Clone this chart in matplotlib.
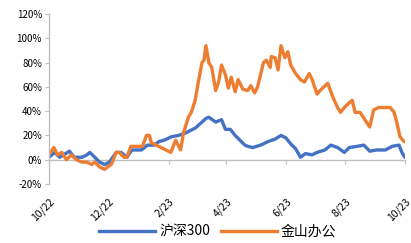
import numpy as np
import pandas as pd
import matplotlib
matplotlib.use('Agg')
import matplotlib.pyplot as plt
import matplotlib.dates as mdates
from matplotlib.ticker import FuncFormatter

plt.rcParams['font.family'] = ['Noto Sans CJK SC', 'DejaVu Sans']

# --- data: days since 2022-10-01 and cumulative return (%) ---
START = pd.Timestamp('2022-10-01')

hs300_days = [0, 6, 11, 21, 26, 34, 39, 42, 47, 52, 57, 62, 69, 74, 80, 85, 95, 101,
              108, 113, 118, 126, 133, 140, 150, 157, 161, 164, 171, 177, 181, 186,
              191, 196, 201, 204, 209, 217, 225, 232, 238, 243, 248, 253, 258, 263,
              270, 275, 283, 289, 296, 303, 308, 316, 323, 329, 336, 345, 352, 359,
              362, 365, 367]
hs300_vals = [2, 6, 2, 7, 2, 2, 4, 6, 2, -2, -4, -2, 6, 6, 2, 8, 8, 12,
              12, 15, 16, 19, 20, 22, 26, 31, 34, 35, 31, 33, 25, 25,
              20, 16, 12, 11, 10, 12, 15, 17, 20, 18, 13, 9, 2, 5,
              4, 6, 8, 12, 10, 6, 10, 11, 12, 7, 8, 8, 11, 12,
              6, 2, 4]

kso_days = [0, 5, 9, 13, 18, 23, 28, 34, 39, 44, 47, 52, 57, 60, 64, 69, 72, 77, 80,
            84, 90, 96, 100, 103, 105, 110, 115, 120, 125, 130, 135, 138, 143, 146,
            150, 153, 157, 159, 161, 164, 167, 171, 174, 177, 181, 184, 187, 191,
            194, 199, 204, 207, 211, 214, 220, 223, 227, 228, 232, 235, 238, 242,
            245, 248, 253, 258, 262, 267, 270, 275, 278, 286, 291, 296, 299, 303,
            308, 311, 314, 319, 324, 329, 333, 338, 345, 350, 354, 357, 360, 364, 366]
kso_vals = [4, 10, 4, 6, 0, 4, 0, -2, -2, -4, -2, -6, -8, -6, -4, 6, 6, 2, 2,
            11, 11, 11, 20, 20, 14, 12, 10, 8, 6, 16, 8, 22, 35, 39,
            49, 63, 80, 82, 94, 80, 76, 57, 64, 78, 70, 59, 68, 56,
            66, 58, 57, 61, 55, 60, 80, 82, 76, 85, 84, 74, 94, 84,
            89, 78, 71, 66, 64, 71, 66, 54, 57, 63, 52, 43, 39, 43,
            47, 49, 39, 39, 33, 27, 41, 43, 43, 43, 39, 30, 19, 15, 15]

series_names = ['沪深300', '金山办公']
series_colors = ['#4472C4', '#ED7D31']

tick_months = pd.date_range('2022-10-01', '2023-10-01', freq='2MS')
y_ticks = [-20, 0, 20, 40, 60, 80, 100, 120]

hs300_dates = START + pd.to_timedelta(hs300_days, unit='D')
kso_dates = START + pd.to_timedelta(kso_days, unit='D')

# --- plot ---
fig = plt.figure(figsize=(4.11, 2.43), dpi=100)
ax = fig.add_axes([0.119, 0.243, 0.866, 0.699])

ax.plot(hs300_dates, hs300_vals, color=series_colors[0], lw=2.4, label=series_names[0],
        solid_joinstyle='round')
ax.plot(kso_dates, kso_vals, color=series_colors[1], lw=2.4, label=series_names[1],
        solid_joinstyle='round')

ax.set_ylim(-20, 120)
ax.set_xlim(tick_months[0], tick_months[-1])
ax.set_yticks(y_ticks)
ax.yaxis.set_major_formatter(FuncFormatter(lambda v, p: f'{v:.0f}%'))

gray = '#BFBFBF'
for s in ['top', 'right', 'bottom']:
    ax.spines[s].set_visible(False)
ax.spines['left'].set_color(gray)
ax.spines['left'].set_linewidth(1.0)
ax.tick_params(axis='y', length=3, color=gray, labelsize=7, pad=2, labelcolor='#000000')

# month labels at the bottom, rotated
ax.set_xticks(tick_months)
ax.xaxis.set_major_formatter(mdates.DateFormatter('%-m/%y'))
ax.tick_params(axis='x', length=0, labelsize=7.5, pad=9)
for lab in ax.get_xticklabels():
    lab.set_rotation(45)
    lab.set_ha('right')
    lab.set_rotation_mode('anchor')

# zero line carrying the tick marks
sec = ax.secondary_xaxis((0 - (-20)) / 140)
sec.set_xticks(tick_months)
sec.set_xticklabels([])
sec.spines['bottom'].set_color(gray)
sec.spines['bottom'].set_linewidth(1.0)
sec.tick_params(axis='x', length=3, color=gray)

fig.legend(loc='lower center', bbox_to_anchor=(0.53, -0.035), ncol=2, frameon=False,
           fontsize=10, handlelength=4, columnspacing=0.8, handletextpad=0.3)

fig.savefig('out.png', dpi=100)
